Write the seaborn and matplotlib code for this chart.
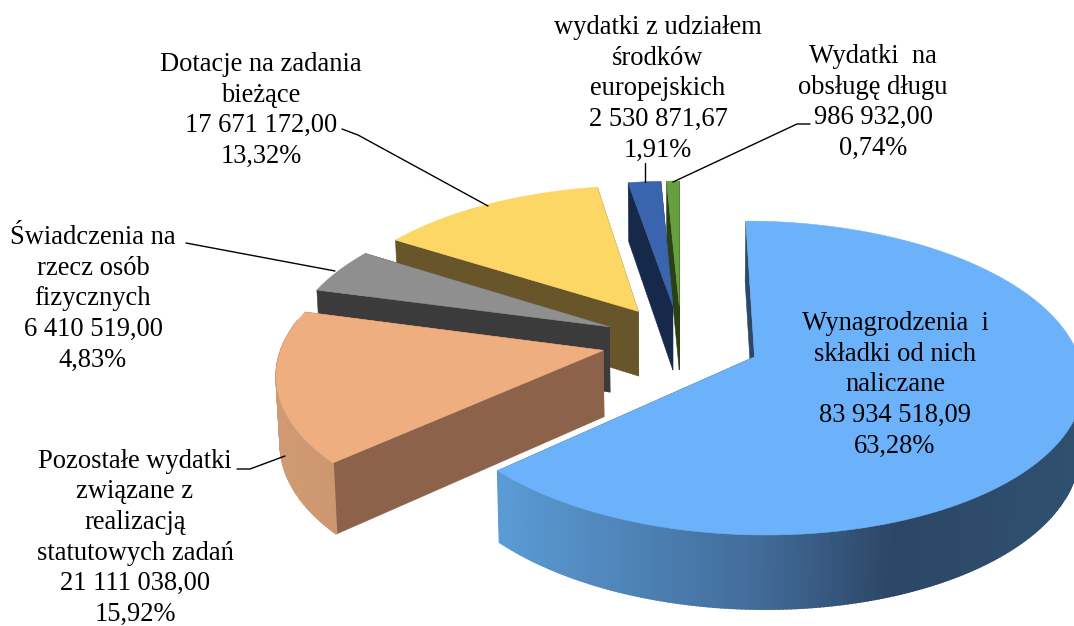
import numpy as np
import matplotlib
matplotlib.use("Agg")
import matplotlib.pyplot as plt
import seaborn as sns

# ---- data ----
categories = [
    "Wynagrodzenia  i\nskładki od nich\nnaliczane",
    "Pozostałe wydatki\nzwiązane z\nrealizacją\nstatutowych zadań",
    "Świadczenia na\nrzecz osób\nfizycznych",
    "Dotacje na zadania\nbieżące",
    "wydatki z udziałem\nśrodków\neuropejskich",
    "Wydatki  na\nobsługę długu",
]
amounts = [83934518.09, 21111038.00, 6410519.00, 17671172.00, 2530871.67, 986932.00]
amount_labels = ["83 934 518,09", "21 111 038,00", "6 410 519,00",
                 "17 671 172,00", "2 530 871,67", "986 932,00"]
share_labels = ["63,28%", "15,92%", "4,83%", "13,32%", "1,91%", "0,74%"]

# ---- styles ----
top_colors = ["#6CB2FA", "#EFAE80", "#8F8F8F", "#FCD766", "#3A64AD", "#659F40"]
cut_colors = ["#2D4766", "#8C634A", "#3B3B3B", "#68562A", "#16294A", "#2A4015"]
rim_stops = [
    [(500, "#5B9BD5"), (756, "#426C9A"), (893, "#2C4666"), (1074, "#30506F")],
    [(275, "#D09B73"), (340, "#CC9670")],
    [(300, "#5A5A5A"), (400, "#4A4A4A")],
    [(380, "#7A6630"), (600, "#68562A")],
    [(620, "#16294A"), (680, "#16294A")],
    [(660, "#2A4015"), (690, "#2A4015")],
]
label_pos = [(895, 322), (135, 459.5), (93, 236), (261, 63), (658, 26), (873, 55)]
leaders = [
    None,
    [(237, 469), (250, 469), (285, 456)],
    [(186, 243), (335, 271)],
    [(342, 129), (358, 135), (488, 206)],
    [(645, 163), (645, 182)],
    [(810, 124), (797, 124), (673, 182)],
]

X0, Y0, RX, RY, K = 681.0, 341.6, 320.0, 150.0, 0.133
EXPLODE, DEPTH, KZ, TILT = 0.248, 66.0, 0.10, 0.99
FONT_PX = 26.5
LINE_PX = 30.7
BASELINE_PX = 8

sns.set_theme(style="white")
palette = sns.color_palette(top_colors)
plt.rcParams["font.family"] = ["Liberation Serif", "DejaVu Serif"]


def project(x, y, drop=False):
    w = 1 + K * y
    sx = X0 + RX * x / w
    sy = Y0 - RY * y / w
    if drop:
        sx = X0 + (sx - X0) * TILT
        sy = sy + DEPTH / (1 + KZ * y)
    return sx, sy


def hexmix(stops, x):
    xs = [s[0] for s in stops]
    cols = np.array([matplotlib.colors.to_rgb(s[1]) for s in stops])
    return tuple(np.interp(x, xs, cols[:, i]) for i in range(3))


fig = plt.figure(figsize=(10.74, 6.26), dpi=100, facecolor="white")
ax = fig.add_axes([0, 0, 1, 1])
ax.set_xlim(0, 1074)
ax.set_ylim(626, 0)
ax.axis("off")

shares = np.array(amounts) / np.sum(amounts)
edges = np.concatenate([[0], np.cumsum(shares)]) * 2 * np.pi

# painter's order: far slices first
for i in [5, 4, 3, 2, 1, 0]:
    a0, a1 = edges[i], edges[i + 1]
    mid = (a0 + a1) / 2
    ox, oy = EXPLODE * np.sin(mid), EXPLODE * np.cos(mid)
    th = np.linspace(a0, a1, max(6, int((a1 - a0) * 90)))
    rx = ox + np.sin(th)
    ry = oy + np.cos(th)
    tx, ty = project(rx, ry)
    bx, by = project(rx, ry, True)
    vx, vy = project(ox, oy)
    wx, wy = project(ox, oy, True)
    kw = dict(zorder=2, clip_on=True)
    # cut faces
    ax.fill([tx[0], vx, wx, bx[0]], [ty[0], vy, wy, by[0]], color=cut_colors[i], lw=0.4, **kw)
    ax.fill([tx[-1], vx, wx, bx[-1]], [ty[-1], vy, wy, by[-1]], color=cut_colors[i], lw=0.4, **kw)
    # outer rim as shaded strips, only the part that faces the viewer
    for j in range(len(th) - 1):
        t = (th[j] + th[j + 1]) / 2
        limit = -0.1 if np.sin(t) > 0 else 0.2
        if np.cos(t) > limit:
            continue
        c = hexmix(rim_stops[i], (tx[j] + tx[j + 1]) / 2)
        ax.fill([tx[j], tx[j + 1], bx[j + 1], bx[j]],
                [ty[j], ty[j + 1], by[j + 1], by[j]],
                color=c, lw=1.2, **kw)
    # top face
    ax.fill(np.r_[vx, tx], np.r_[vy, ty], color=palette[i], lw=0.4, **kw)

for pts in leaders:
    if pts:
        ax.plot([p[0] for p in pts], [p[1] for p in pts], color="black", lw=1.0, zorder=3)

for name, amt, pct, (cx, cy) in zip(categories, amount_labels, share_labels, label_pos):
    lines = name.split("\n") + [amt, pct]
    for n, line in enumerate(lines):
        ax.text(cx, cy + BASELINE_PX + n * LINE_PX, line, ha="center", va="baseline",
                fontsize=FONT_PX * 72 / 100, color="black", zorder=4)

fig.savefig("out.png", dpi=100, facecolor="white")
